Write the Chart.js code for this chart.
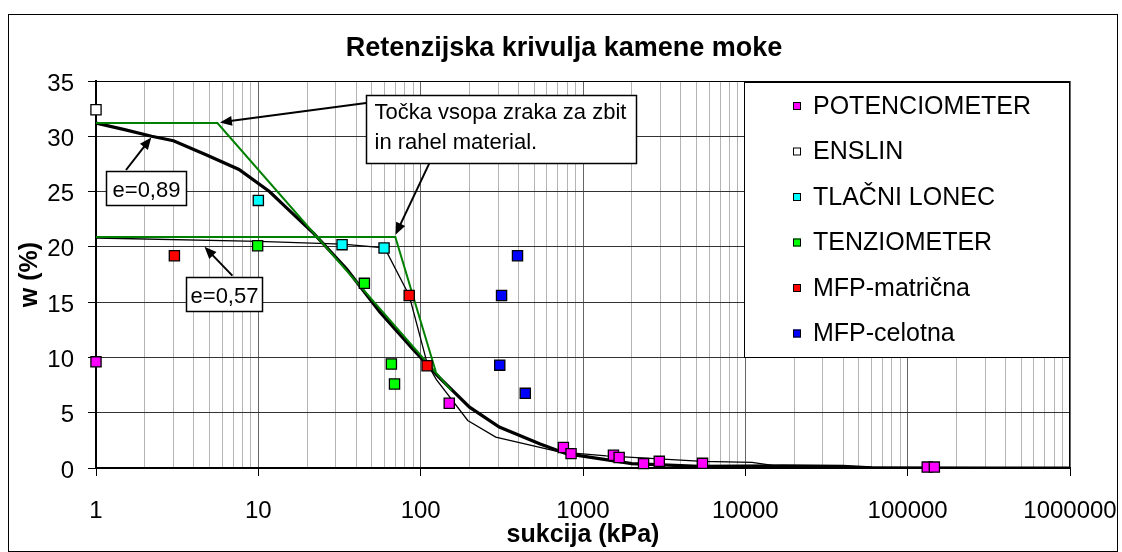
<!DOCTYPE html>
<html>
<head>
<meta charset="utf-8">
<title>Retenzijska krivulja kamene moke</title>
<script src="https://cdn.jsdelivr.net/npm/chart.js@4.4.1/dist/chart.umd.min.js"></script>
<style>
    html, body { margin: 0; padding: 0; background: #fff; }
    #wrap { width: 1122px; height: 552px; }
</style>
</head>
<body>
<div id="wrap"><canvas id="retentionChart" width="1122" height="552"></canvas></div>
<script>
// measured points: suction (kPa) and water content w (%)
const potX = [1, 150, 757, 844, 1540, 1670, 2360, 2950, 5450, 132000, 146000];
const potY = [9.6, 5.85, 1.85, 1.3, 1.15, 0.95, 0.4, 0.6, 0.42, 0.08, 0.08];
const enslinX = [1];
const enslinY = [32.4];
const lonecX = [10, 32.8, 59.5];
const lonecY = [24.2, 20.2, 19.9];
const tenzX = [9.9, 45, 66, 69];
const tenzY = [20.1, 16.7, 9.4, 7.6];
const matX = [3.04, 85, 109.5];
const matY = [19.2, 15.6, 9.25];
const celX = [307, 315, 395, 441];
const celY = [9.3, 15.6, 19.2, 6.75];

// fitted curves
const curve89X = [1, 1.5, 2.2, 3, 4.8, 7.6, 11.7, 15.5, 22, 35, 56, 89, 130, 200, 305, 540, 790, 2000, 5200, 17000, 40000, 60000, 1000000];
const curve89Y = [31.2, 30.6, 30.0, 29.6, 28.3, 27.0, 25.0, 23.3, 21.2, 18.0, 14.1, 10.8, 8.2, 5.5, 3.7, 2.2, 1.3, 0.4, 0.15, 0.2, 0.15, 0.02, 0];
const curve57X = [1, 10, 33, 60, 85, 110, 125, 195, 290, 714, 1390, 5450, 11000, 17000, 1000000];
const curve57Y = [20.8, 20.5, 20.25, 19.9, 15.6, 9.4, 8.0, 4.3, 2.8, 1.45, 1.1, 0.6, 0.5, 0.1, 0];

// idealised bilinear lines (air entry)
const ideal89X = [1, 5.6, 155];
const ideal89Y = [31.2, 31.2, 7.0];
const ideal57X = [1, 69.8, 124];
const ideal57Y = [20.9, 20.9, 8.7];

const xTickLabels = [1, 10, 100, 1000, 10000, 100000, 1000000];
const yTickStep = 5;

const chartTitle = 'Retenzijska krivulja kamene moke';
const FONT = "'Liberation Sans', Arial, sans-serif";
Chart.defaults.font.family = FONT;
Chart.defaults.color = '#000';

function pts(xs, ys) {
    return xs.map((x, i) => ({ x: x, y: ys[i] }));
}

function isDecade(v) {
    const l = Math.log10(v);
    return Math.abs(l - Math.round(l)) < 1e-9;
}

function scatterSet(label, xs, ys, color) {
    return {
        label: label,
        data: pts(xs, ys),
        pointStyle: 'rect',
        pointRadius: 7.2,
        pointHoverRadius: 7.2,
        pointBackgroundColor: color,
        pointBorderColor: '#000',
        pointBorderWidth: 1.3,
        showLine: false,
        clip: false,
        inLegend: true
    };
}

function lineSet(label, xs, ys, color, width) {
    return {
        label: label,
        data: pts(xs, ys),
        showLine: true,
        borderColor: color,
        borderWidth: width,
        pointRadius: 0,
        pointHoverRadius: 0,
        tension: 0,
        fill: false
    };
}

// callout boxes and arrows, anchored in data coordinates
const boxes = [
    { lines: ['e=0,89'], at: [2.02, 25.3], w: 80, h: 34, align: 'center' },
    { lines: ['e=0,57'], at: [6.18, 15.7], w: 76, h: 34, align: 'center' },
    { lines: ['Točka vsopa zraka za zbit', 'in rahel material.'], at: [314, 30.66], w: 270, h: 68, align: 'left' }
];
const arrows = [
    { from: [1.53, 26.95], to: [2.19, 29.9] },
    { from: [6.92, 17.4], to: [4.66, 20.0] },
    { from: [46.1, 33.0], to: [5.8, 31.25] },
    { from: [113, 27.55], to: [70, 21.1] }
];

function drawArrow(ctx, x1, y1, x2, y2) {
    const a = Math.atan2(y2 - y1, x2 - x1);
    const len = 12, half = 5;
    ctx.beginPath();
    ctx.moveTo(x1, y1);
    ctx.lineTo(x2 - Math.cos(a) * len * 0.7, y2 - Math.sin(a) * len * 0.7);
    ctx.stroke();
    ctx.beginPath();
    ctx.moveTo(x2, y2);
    ctx.lineTo(x2 - len * Math.cos(a) + half * Math.sin(a), y2 - len * Math.sin(a) - half * Math.cos(a));
    ctx.lineTo(x2 - len * Math.cos(a) - half * Math.sin(a), y2 - len * Math.sin(a) + half * Math.cos(a));
    ctx.closePath();
    ctx.fill();
}

const framePlugin = {
    id: 'frame',
    beforeDraw(chart) {
        const ctx = chart.ctx;
        ctx.save();
        ctx.fillStyle = '#fff';
        ctx.fillRect(0, 0, chart.width, chart.height);
        ctx.strokeStyle = '#000';
        ctx.lineWidth = 1;
        ctx.strokeRect(8.5, 14.5, 1109, 537);
        // title, centred a little left of the plot centre like the original
        ctx.font = 'bold 27px ' + FONT;
        ctx.fillStyle = '#000';
        ctx.textAlign = 'center';
        ctx.textBaseline = 'alphabetic';
        ctx.fillText(chartTitle, 564, 56);
        ctx.restore();
    }
};

const extrasPlugin = {
    id: 'extras',
    afterDatasetsDraw(chart) {
        const ctx = chart.ctx;
        const area = chart.chartArea;
        const sx = chart.scales.x, sy = chart.scales.y;
        ctx.save();

        // top and right plot border
        ctx.strokeStyle = '#000';
        ctx.lineWidth = 1;
        ctx.beginPath();
        ctx.moveTo(area.left, area.top + 0.5);
        ctx.lineTo(area.right - 0.5, area.top + 0.5);
        ctx.lineTo(area.right - 0.5, area.bottom);
        ctx.stroke();

        // arrows
        ctx.strokeStyle = '#000';
        ctx.fillStyle = '#000';
        ctx.lineWidth = 2;
        arrows.forEach(a => {
            drawArrow(ctx,
                sx.getPixelForValue(a.from[0]), sy.getPixelForValue(a.from[1]),
                sx.getPixelForValue(a.to[0]), sy.getPixelForValue(a.to[1]));
        });

        // callout boxes
        ctx.font = '22px ' + FONT;
        boxes.forEach(b => {
            const cx = sx.getPixelForValue(b.at[0]);
            const cy = sy.getPixelForValue(b.at[1]);
            const left = Math.round(cx - b.w / 2) + 0.5;
            const top = Math.round(cy - b.h / 2) + 0.5;
            ctx.fillStyle = '#fff';
            ctx.fillRect(left, top, b.w, b.h);
            ctx.strokeStyle = '#000';
            ctx.lineWidth = 1.5;
            ctx.strokeRect(left, top, b.w, b.h);
            ctx.fillStyle = '#000';
            ctx.textBaseline = 'alphabetic';
            if (b.align === 'center') {
                ctx.textAlign = 'center';
                ctx.fillText(b.lines[0], left + b.w / 2, top + b.h / 2 + 8);
            } else {
                ctx.textAlign = 'left';
                b.lines.forEach((t, i) => ctx.fillText(t, left + 8, top + 23 + i * 30));
            }
        });

        // legend inside the plot area
        const lw = 326, lh = 276;
        const lx = area.right - lw, ly = area.top + 1;
        ctx.fillStyle = '#fff';
        ctx.fillRect(lx, ly, lw, lh);
        ctx.strokeStyle = '#000';
        ctx.lineWidth = 1;
        ctx.strokeRect(lx + 0.5, ly + 0.5, lw - 1, lh - 1);
        ctx.font = '25px ' + FONT;
        ctx.textAlign = 'left';
        ctx.textBaseline = 'middle';
        chart.data.datasets.filter(d => d.inLegend).forEach((d, i) => {
            const y = ly + 24 + i * 45.5;
            ctx.fillStyle = d.pointBackgroundColor;
            ctx.fillRect(lx + 49, y - 4, 8, 8);
            ctx.strokeStyle = '#000';
            ctx.lineWidth = 1;
            ctx.strokeRect(lx + 49.5, y - 3.5, 7, 7);
            ctx.fillStyle = '#000';
            ctx.fillText(d.label, lx + 69, y + 1);
        });

        ctx.restore();
    }
};

const ctx = document.getElementById('retentionChart').getContext('2d');
new Chart(ctx, {
    type: 'scatter',
    data: {
        datasets: [
            scatterSet('POTENCIOMETER', potX, potY, '#ff00ff'),
            scatterSet('ENSLIN', enslinX, enslinY, '#ffffff'),
            scatterSet('TLAČNI LONEC', lonecX, lonecY, '#00ffff'),
            scatterSet('TENZIOMETER', tenzX, tenzY, '#00ff00'),
            scatterSet('MFP-matrična', matX, matY, '#ff0000'),
            scatterSet('MFP-celotna', celX, celY, '#0000ff'),
            lineSet('ideal e=0,89', ideal89X, ideal89Y, '#008000', 2),
            lineSet('ideal e=0,57', ideal57X, ideal57Y, '#008000', 2),
            lineSet('e=0,89', curve89X, curve89Y, '#000', 3.2),
            lineSet('e=0,57', curve57X, curve57Y, '#000', 1.3)
        ]
    },
    options: {
        responsive: false,
        animation: false,
        devicePixelRatio: 1,
        layout: { padding: { left: 8, right: 52, top: 81, bottom: 0 } },
        plugins: {
            legend: { display: false },
            tooltip: { enabled: false },
            title: { display: false }
        },
        scales: {
            x: {
                type: 'logarithmic',
                min: xTickLabels[0],
                max: xTickLabels[xTickLabels.length - 1],
                afterFit: s => {
                    s.height = 84;
                    s.paddingLeft = 0;
                    s.paddingRight = 0;
                },
                afterBuildTicks: s => {
                    const ticks = [];
                    xTickLabels.forEach((d, i) => {
                        if (i === xTickLabels.length - 1) {
                            ticks.push({ value: d });
                            return;
                        }
                        for (let m = 1; m < 10; m++) ticks.push({ value: d * m });
                    });
                    s.ticks = ticks;
                },
                ticks: {
                    autoSkip: false,
                    maxRotation: 0,
                    padding: 21,
                    font: { size: 24 },
                    color: '#000',
                    callback: v => (xTickLabels.includes(v) ? String(v) : '')
                },
                grid: {
                    color: c => (c.tick && isDecade(c.tick.value) ? '#666' : '#b4b4b4'),
                    tickColor: c => (c.tick && isDecade(c.tick.value) ? '#000' : 'rgba(0,0,0,0)'),
                    tickLength: 8,
                    lineWidth: 1
                },
                border: { color: '#000', width: 2 },
                title: {
                    display: true,
                    text: 'sukcija (kPa)',
                    color: '#000',
                    font: { size: 25, weight: 'bold', family: FONT },
                    padding: { top: 0, bottom: 2 }
                }
            },
            y: {
                type: 'linear',
                min: 0,
                max: 35,
                afterFit: s => {
                    s.width = 88;
                    s.paddingTop = 0;
                    s.paddingBottom = 0;
                },
                ticks: {
                    stepSize: yTickStep,
                    padding: 14,
                    labelOffset: 3,
                    font: { size: 24 },
                    color: '#000'
                },
                grid: {
                    color: '#333',
                    tickColor: '#000',
                    tickLength: 8,
                    lineWidth: 1
                },
                border: { color: '#000', width: 2 },
                title: {
                    display: true,
                    text: 'w (%)',
                    color: '#000',
                    font: { size: 25, weight: 'bold', family: FONT },
                    padding: { top: 7, bottom: 0 }
                }
            }
        }
    },
    plugins: [framePlugin, extrasPlugin]
});
</script>
</body>
</html>
